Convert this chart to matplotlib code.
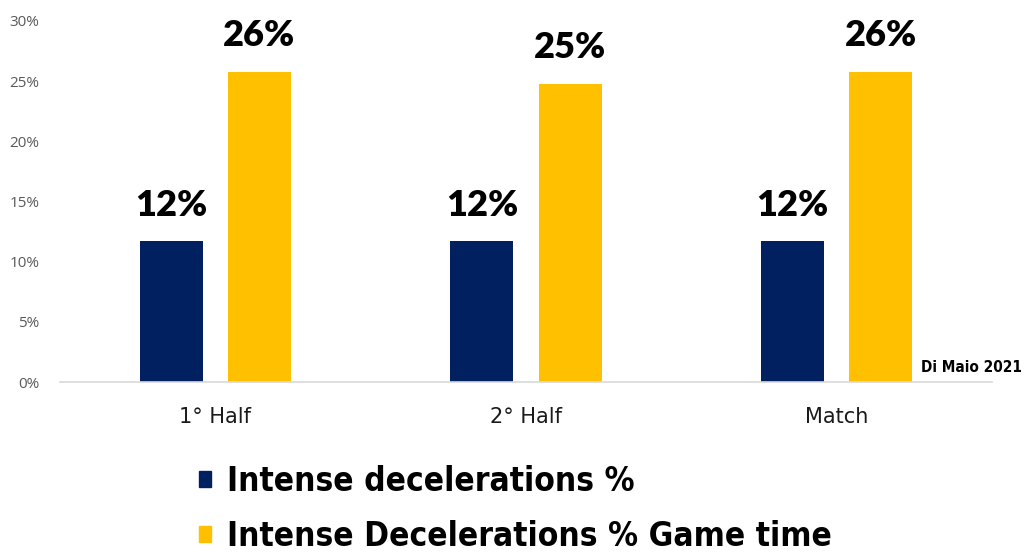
import matplotlib.pyplot as plt
import numpy as np
from matplotlib.patches import Patch
from matplotlib.ticker import PercentFormatter

# phases of the match and share of intense decelerations (%)
phases = ['1° Half', '2° Half', 'Match']
decel_pct = [11.7, 11.7, 11.7]
decel_game_time_pct = [25.8, 24.8, 25.8]
series_names = ['Intense decelerations %', 'Intense Decelerations % Game time']
navy = '#002060'
gold = '#FFC000'

fig = plt.figure(figsize=(10.24, 5.54), dpi=100)
ax = fig.add_axes([60 / 1024, 1 - 382 / 554, 932 / 1024, 361 / 554])

x = np.arange(len(phases))
w = 0.203
off = 0.142
b1 = ax.bar(x - off, decel_pct, w, color=navy)
b2 = ax.bar(x + off, decel_game_time_pct, w, color=gold)

for bars in (b1, b2):
    for rect in bars:
        h = rect.get_height()
        ax.annotate(f'{h:.0f}%', (rect.get_x() + rect.get_width() / 2, h),
                    xytext=(0, 14), textcoords='offset points', ha='center', va='bottom',
                    fontsize=26, fontweight='heavy', family='Lato')

ax.set_xlim(-0.5, 2.5)
ax.set_ylim(0, 30)
ax.set_yticks(range(0, 31, 5))
ax.yaxis.set_major_formatter(PercentFormatter(decimals=0))
ax.set_xticks(x)
ax.set_xticklabels(phases, fontsize=15, family='DejaVu Sans', color='#1a1a1a')
ax.tick_params(axis='x', length=0, pad=18)
ax.tick_params(axis='y', length=0, pad=15, labelsize=11, labelcolor='#595959')
for lab in ax.get_yticklabels():
    lab.set_family('Open Sans')
for s in ['top', 'right', 'left']:
    ax.spines[s].set_visible(False)
ax.spines['bottom'].set_color('#d9d9d9')
ax.spines['bottom'].set_linewidth(1.2)

fig.text(1022 / 1024, 1 - 368 / 554, 'Di Maio 2021', ha='right', va='center',
         fontsize=11, fontweight='bold', family='DejaVu Sans', fontstretch='condensed')

handles = [Patch(color=navy), Patch(color=gold)]
fig.legend(handles, series_names, loc='upper left', bbox_to_anchor=(182 / 1024, 1 - 448 / 554),
           frameon=False,
           prop={'family': 'DejaVu Sans', 'stretch': 'condensed', 'weight': 'bold', 'size': 24},
           handlelength=0.36, handleheight=0.36, handletextpad=0.48, labelspacing=0.68,
           borderpad=0)

fig.savefig('out.png', dpi=100)
